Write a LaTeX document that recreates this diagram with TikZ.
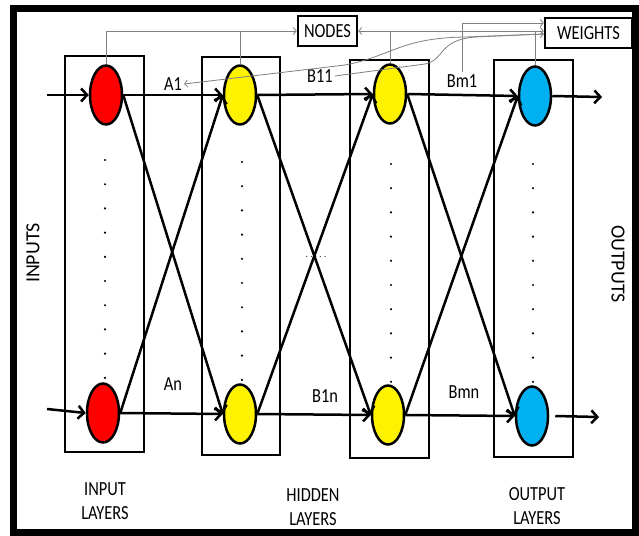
\documentclass[tikz,border=0pt]{standalone}
\usepackage{fontspec}
\setmainfont{Carlito}[FakeStretch=0.82]
\newfontfamily\upfont{Carlito}
\usetikzlibrary{shapes,arrows.meta}

\begin{document}
\begin{tikzpicture}[x=1pt,y=-1pt, font=\fontsize{20}{24}\selectfont]% 1pt = 1px of the picture
\tikzstyle{neuron}=[ellipse,draw,line width=2.5pt,minimum width=32pt,minimum height=59pt,inner sep=0pt]
\tikzstyle{layer}=[draw,line width=2.5pt]
\tikzstyle{wire}=[line width=2.5pt,-{Straight Barb[length=6pt,width=13pt]}]
\tikzstyle{link}=[black!50,line width=0.8pt]
\tikzstyle{tip}=[-{Straight Barb[length=3pt,width=7pt]}]
\tikzstyle{tag}=[inner sep=2pt]
\tikzstyle{box}=[draw,line width=2.5pt,inner sep=0pt,minimum height=30pt]
\definecolor{skyblue}{RGB}{0,176,240}

\useasboundingbox (0,0) rectangle (639,535);
\fill[white] (0,0) rectangle (639,535);
\draw[line width=7pt] (13.5,8.5) rectangle (635.5,532);

% layers
\draw[layer] (65,56) rectangle (144,452);
\draw[layer] (202,57) rectangle (280,455);
\draw[layer] (350,60) rectangle (429,458);
\draw[layer] (494,60) rectangle (573,457);

\foreach \x/\y in {105/160,242/162,391/164,533/164}
  \foreach \k in {0,...,9}
    \fill (\x,{\y+24.2*\k}) circle (1.2pt);

% neurons
\node[neuron,fill=red] (i1) at (106,95) {};
\node[neuron,fill=red] (in) at (103,413) {};
\node[neuron,fill=yellow] (h11) at (240,95) {};
\node[neuron,fill=yellow] (h1n) at (240,414) {};
\node[neuron,fill=yellow] (h21) at (390,94) {};
\node[neuron,fill=yellow] (h2n) at (388,415) {};
\node[neuron,fill=skyblue] (o1) at (535,96) {};
\node[neuron,fill=skyblue] (on) at (532,416) {};

\coordinate (x1) at (47,95);
\coordinate (xn) at (47,409);
\coordinate (y1) at (602,97);
\coordinate (yn) at (599,417);

% labels
\node[tag] (a1) at (173,84) {A1};
\node[tag] (an) at (173,384) {An};
\node[tag] (b11) at (320,76) {B11};
\node[tag] (b1n) at (325,396) {B1n};
\node[tag] (bm1) at (462,81) {Bm1};
\node[tag] (bmn) at (464,392) {Bmn};
\node[font=\fontsize{10}{12}\selectfont] (mid) at (316,257) {. . . . .};

\node[box,minimum width=59pt] (nodes) at (327.5,31) {NODES};
\node[box,minimum width=87pt] (weights) at (588.5,33) {WEIGHTS};

\node[rotate=90,font=\upfont\fontsize{20}{24}\selectfont] (inputs) at (33,253) {INPUTS};
\node[rotate=-90,font=\upfont\fontsize{20}{24}\selectfont] (outputs) at (618,264) {OUTPUTS};

\node[align=center] (lin) at (105,501) {INPUT\\LAYERS};
\node[align=center] (lhid) at (313,507) {HIDDEN\\LAYERS};
\node[align=center] (lout) at (537,506) {OUTPUT\\LAYERS};

% forward connections
\draw[wire] (x1) -- (i1.west);
\draw[wire] (xn) -- (in.west);
\draw[wire] (i1.east) -- (h11.west);
\draw[wire] (in.east) -- (h1n.west);
\draw[wire] (i1.east) -- (h1n.west);
\draw[wire] (in.east) -- (h11.west);
\draw[wire] (h11.east) -- (h21.west);
\draw[wire] (h1n.east) -- (h2n.west);
\draw[wire] (h11.east) -- (h2n.west);
\draw[wire] (h1n.east) -- (h21.west);
\draw[wire] (h21.east) -- (o1.west);
\draw[wire] (h2n.east) -- (on.west);
\draw[wire] (h21.east) -- (on.west);
\draw[wire] (h2n.east) -- (o1.west);
\draw[wire] (o1.east) -- (y1);
\draw[wire] ([xshift=6pt]on.east) -- (yn);

% nodes and weights
\draw[link,tip] (i1.north) |- (nodes.west);
\draw[link] (h11.north) -- (h11.north |- nodes.west);
\draw[link,{Straight Barb[length=3pt,width=7pt]}-{Straight Barb[length=3pt,width=7pt]}] (nodes.east) -- (weights.west |- nodes.east);
\draw[link] (h21.north) -- (h21.north |- nodes.east);
\draw[link] (o1.north) -- (o1.north |- nodes.east);
\draw[link,tip] (bm1.north) |- ([yshift=10pt]weights.west);
\draw[link,tip] (b11.east) -- (425,64) .. controls (445,60) and (438,40) .. (475,37) -- ([yshift=-1pt]weights.west);
\draw[link,tip] ([yshift=-1pt]weights.west) -- (465,37) .. controls (400,38) and (392,56) .. (345,65) -- (a1.east);

\end{tikzpicture}
\end{document}
